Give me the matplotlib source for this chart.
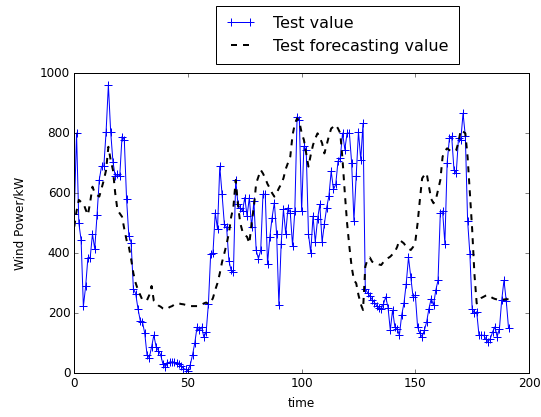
import numpy as np
import matplotlib
matplotlib.use("Agg")
import matplotlib.pyplot as plt

plt.style.use("classic")
plt.rcParams["font.family"] = ["DejaVu Sans"]

# ── Data ──────────────────────────────────────────────────────
test_value = [
    530, 800, 500, 443, 222, 289, 385, 385, 463, 414,
    526, 645, 689, 689, 805, 961, 805, 705, 656, 663,
    656, 788, 777, 580, 457, 435, 281, 265, 215, 175,
    170, 132, 60, 51, 87, 126, 87, 75, 60, 30,
    21, 32, 37, 37, 37, 32, 30, 22, 15, 12,
    8, 27, 60, 100, 153, 142, 153, 120, 136, 231,
    398, 400, 534, 480, 689, 596, 497, 486, 375, 342,
    337, 645, 562, 551, 540, 585, 523, 585, 486, 574,
    409, 381, 409, 596, 596, 364, 453, 518, 568, 464,
    226, 431, 546, 464, 551, 535, 425, 540, 854, 843,
    540, 756, 745, 464, 401, 523, 436, 513, 562, 436,
    497, 551, 590, 673, 612, 629, 706, 717, 800, 745,
    800, 800, 700, 508, 656, 805, 711, 832, 280, 268,
    256, 245, 235, 225, 218, 215, 230, 254, 218, 143,
    210, 154, 148, 126, 193, 232, 298, 386, 320, 254,
    260, 154, 132, 121, 143, 171, 215, 248, 226, 276,
    309, 535, 540, 431, 700, 783, 789, 678, 667, 783,
    777, 866, 789, 508, 397, 215, 199, 204, 126, 126,
    126, 115, 104, 115, 137, 154, 121, 148, 243, 309,
    240, 150,
]

forecast_value = [
    488, 540, 577, 570, 566, 545, 527, 570, 621, 600,
    593, 588, 615, 643, 677, 754, 710, 677, 600, 543,
    532, 521, 480, 443, 421, 380, 332, 300, 277, 260,
    243, 243, 243, 260, 290, 240, 232, 225, 221, 215,
    212, 215, 220, 223, 228, 232, 232, 230, 229, 227,
    225, 223, 223, 223, 223, 225, 228, 232, 235, 230,
    235, 250, 277, 300, 332, 370, 399, 430, 466, 520,
    554, 643, 560, 500, 471, 460, 454, 432, 500, 554,
    632, 655, 677, 665, 649, 630, 616, 600, 588, 600,
    616, 630, 649, 680, 700, 721, 793, 830, 849, 838,
    800, 777, 732, 688, 727, 760, 782, 799, 785, 766,
    732, 760, 790, 815, 821, 827, 815, 799, 710, 599,
    499, 421, 354, 310, 299, 260, 230, 210, 354, 380,
    385, 371, 368, 366, 362, 360, 370, 377, 383, 388,
    396, 404, 420, 443, 438, 432, 420, 415, 410, 420,
    438, 499, 577, 649, 660, 666, 621, 580, 566, 577,
    610, 643, 721, 740, 749, 743, 738, 740, 743, 770,
    810, 805, 799, 720, 600, 480, 330, 232, 243, 250,
    254, 258, 260, 255, 250, 247, 245, 243, 244, 245,
    246, 246,
]

time = np.arange(len(test_value))

# ── Canvas ─────────────────────────────────────────────────────
fig = plt.figure(figsize=(541 / 72, 417 / 72), dpi=72)
fig.patch.set_facecolor("white")
ax = fig.add_axes([0.1373, 0.1055, 0.8405, 0.7194])

ax.plot(time, test_value, "b-+", linewidth=1, markersize=8,
        markeredgewidth=1, label="Test value")
ax.plot(time, forecast_value, "k--", linewidth=2,
        label="Test forecasting value")

ax.set_xlim(0, 200)
ax.set_ylim(0, 1000)
ax.set_xticks([0, 50, 100, 150, 200])
ax.set_yticks([0, 200, 400, 600, 800, 1000])
ax.tick_params(labelsize=12)
ax.set_xlabel("time", fontsize=12, labelpad=7)
ax.set_ylabel("Wind Power/kW", fontsize=12, labelpad=14)

fig.legend(loc="upper left", bbox_to_anchor=(216 / 541, 1 - 6 / 417),
           bbox_transform=fig.transFigure, fontsize=16, numpoints=2,
           handlelength=1.8, handletextpad=1.15, borderpad=0.62,
           fancybox=False, framealpha=1, borderaxespad=0)

plt.savefig("out.png", dpi=72, facecolor="white")
plt.close()
